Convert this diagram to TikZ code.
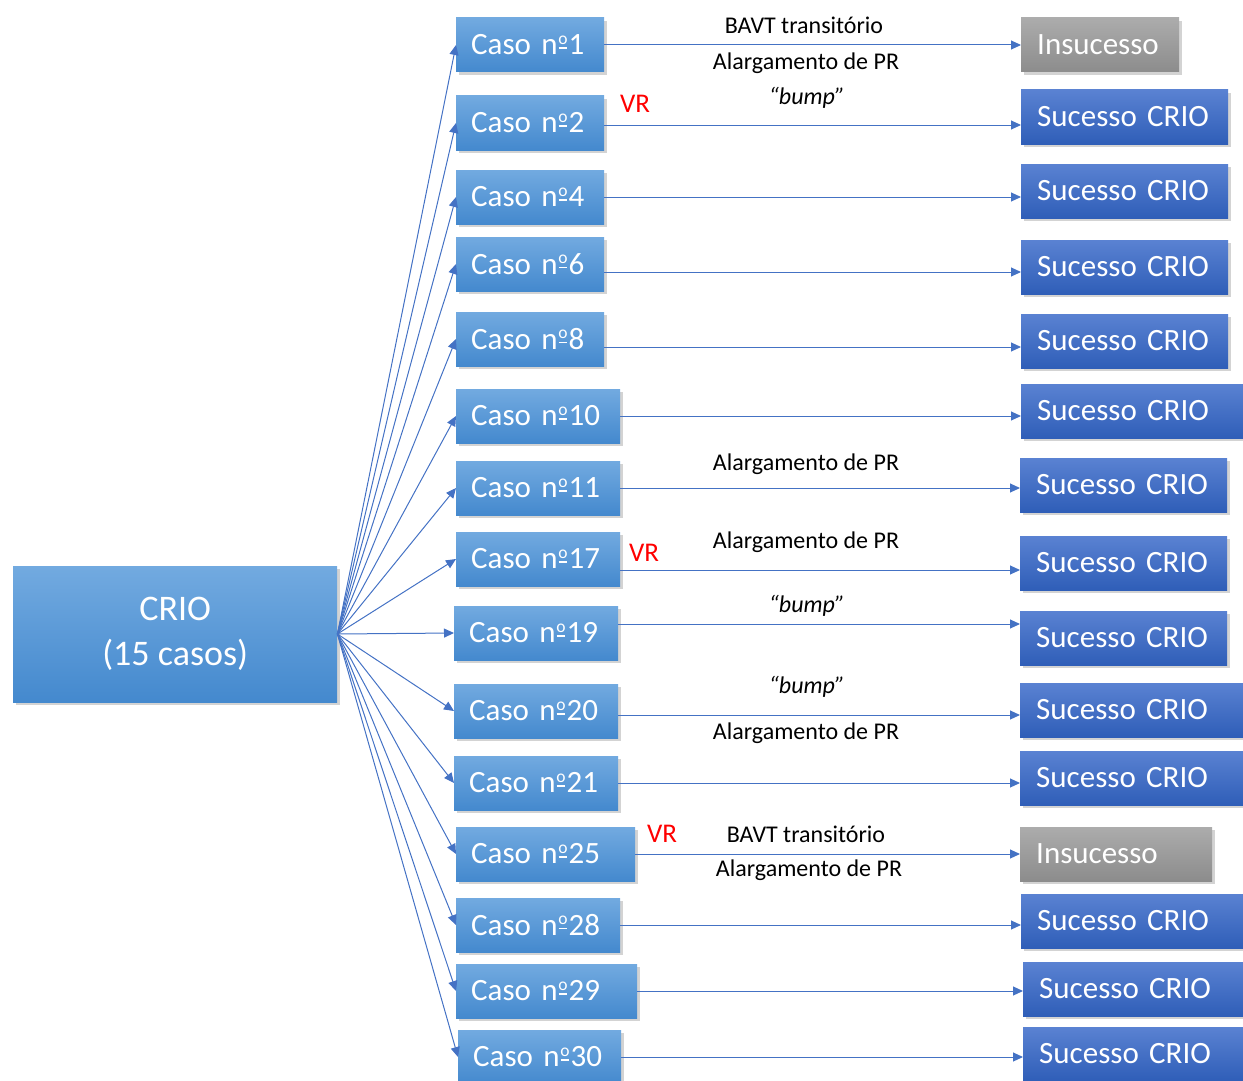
\documentclass[tikz,border=0pt]{standalone}
\usepackage{fontspec}
\usepackage{graphicx}
\setmainfont{Carlito}
\usetikzlibrary{arrows.meta,shadows}

\definecolor{casotop}{RGB}{114,170,224}
\definecolor{casobot}{RGB}{68,137,206}
\definecolor{suctop}{RGB}{90,130,210}
\definecolor{sucbot}{RGB}{47,94,184}
\definecolor{instop}{RGB}{172,172,172}
\definecolor{insbot}{RGB}{140,140,140}
\definecolor{arrblue}{RGB}{68,114,196}

% "nº" with the underlined ordinal, as the picture prints it
\newcommand\nro{n\kern1pt\rlap{\raisebox{6.3pt}{\rule{8.5pt}{1.5pt}}}%
  \makebox[8.5pt]{\raisebox{10.5pt}{\fontsize{17.5}{17.5}\selectfont o}}\kern1.5pt}

\tikzset{
  box/.style={draw=none,inner xsep=15pt,inner ysep=0pt,minimum height=54pt,
    text=white,anchor=west,align=left,font=\fontsize{31}{37}\selectfont,
    drop shadow={shadow xshift=3pt,shadow yshift=-3pt,opacity=0.35}},
  casobox/.style={box,top color=casotop,bottom color=casobot,text width=#1},
  sucbox/.style={box,inner xsep=16pt,top color=suctop,bottom color=sucbot,text width=#1},
  insbox/.style={box,inner xsep=16pt,top color=instop,bottom color=insbot,text width=#1},
  crio/.style={box,align=center,minimum width=324pt,minimum height=136pt,
    top color=casotop,bottom color=casobot,font=\fontsize{36}{45}\selectfont},
  lbl/.style={font=\fontsize{24}{28}\selectfont},
  vr/.style={text=red,font=\fontsize{27}{32}\selectfont},
  arr/.style={-{Triangle[length=10pt,width=9pt]},draw=arrblue,line width=1pt}
}

\begin{document}
\begin{tikzpicture}[x=1pt,y=-1pt]
  \useasboundingbox (0,0) rectangle (1243,1081);

  \draw (13,634) node[crio] (crio) {CRIO\\(15 casos)};

  \draw (456,45) node[casobox=118pt] (c1) {Caso \nro1};
  \draw (456,123) node[casobox=118pt] (c2) {Caso \nro2};
  \draw (456,197) node[casobox=118pt] (c4) {Caso \nro4};
  \draw (456,264) node[casobox=118pt] (c6) {Caso \nro6};
  \draw (456,339) node[casobox=118pt] (c8) {Caso \nro8};
  \draw (456,416) node[casobox=134pt] (c10) {Caso \nro10};
  \draw (456,488) node[casobox=134pt] (c11) {Caso \nro11};
  \draw (456,559) node[casobox=134pt] (c17) {Caso \nro17};
  \draw (454,633) node[casobox=134pt] (c19) {Caso \nro19};
  \draw (454,711) node[casobox=134pt] (c20) {Caso \nro20};
  \draw (454,783) node[casobox=134pt] (c21) {Caso \nro21};
  \draw (456,854) node[casobox=149pt] (c25) {Caso \nro25};
  \draw (456,925) node[casobox=134pt] (c28) {Caso \nro28};
  \draw (456,991) node[casobox=151pt] (c29) {Caso \nro29};
  \draw (458,1057) node[casobox=133pt] (c30) {Caso \nro30};

  \draw (1021,45) node[insbox=126pt] (s1) {Insucesso};
  \draw (1021,117) node[sucbox=175pt] (s2) {Sucesso CRIO};
  \draw (1021,191) node[sucbox=175pt] (s4) {Sucesso CRIO};
  \draw (1021,267) node[sucbox=175pt] (s6) {Sucesso CRIO};
  \draw (1021,341) node[sucbox=175pt] (s8) {Sucesso CRIO};
  \draw (1021,411) node[sucbox=210pt] (s10) {Sucesso CRIO};
  \draw (1020,485) node[sucbox=175pt] (s11) {Sucesso CRIO};
  \draw (1020,563) node[sucbox=175pt] (s17) {Sucesso CRIO};
  \draw (1020,638) node[sucbox=175pt] (s19) {Sucesso CRIO};
  \draw (1020,710) node[sucbox=210pt] (s20) {Sucesso CRIO};
  \draw (1020,778) node[sucbox=210pt] (s21) {Sucesso CRIO};
  \draw (1020,854) node[insbox=160pt] (s25) {Insucesso};
  \draw (1021,921) node[sucbox=210pt] (s28) {Sucesso CRIO};
  \draw (1023,989) node[sucbox=210pt] (s29) {Sucesso CRIO};
  \draw (1023,1054) node[sucbox=210pt] (s30) {Sucesso CRIO};

  % fan out of CRIO
  \draw[arr] (crio.east) -- (c1.west);
  \draw[arr] (crio.east) -- (c2.west);
  \draw[arr] (crio.east) -- (c4.west);
  \draw[arr] (crio.east) -- (c6.west);
  \draw[arr] (crio.east) -- (c8.west);
  \draw[arr] (crio.east) -- (c10.west);
  \draw[arr] (crio.east) -- (c11.west);
  \draw[arr] (crio.east) -- (c17.west);
  \draw[arr] (crio.east) -- (c19.west);
  \draw[arr] (crio.east) -- (c20.west);
  \draw[arr] (crio.east) -- (c21.west);
  \draw[arr] (crio.east) -- (c25.west);
  \draw[arr] (crio.east) -- (c28.west);
  \draw[arr] (crio.east) -- (c29.west);
  \draw[arr] (crio.east) -- (c30.west);

  % outcomes
  \draw[arr] (c1.east) -- (c1.east -| s1.west);
  \draw[arr] ([yshift=-2pt]c2.east) -- ([yshift=-2pt]c2.east -| s2.west);
  \draw[arr] (c4.east) -- (c4.east -| s4.west);
  \draw[arr] ([yshift=-8pt]c6.east) -- ([yshift=-8pt]c6.east -| s6.west);
  \draw[arr] ([yshift=-8pt]c8.east) -- ([yshift=-8pt]c8.east -| s8.west);
  \draw[arr] (c10.east) -- (c10.east -| s10.west);
  \draw[arr] (c11.east) -- (c11.east -| s11.west);
  \draw[arr] ([yshift=-11pt]c17.east) -- ([yshift=-11pt]c17.east -| s17.west);
  \draw[arr] ([yshift=9pt]c19.east) -- ([yshift=9pt]c19.east -| s19.west);
  \draw[arr] ([yshift=-4pt]c20.east) -- ([yshift=-4pt]c20.east -| s20.west);
  \draw[arr] (c21.east) -- (c21.east -| s21.west);
  \draw[arr] (c25.east) -- (c25.east -| s25.west);
  \draw[arr] (c28.east) -- (c28.east -| s28.west);
  \draw[arr] (c29.east) -- (c29.east -| s29.west);
  \draw[arr] (c30.east) -- (c30.east -| s30.west);

  \draw (804,25) node[lbl] (t1a) {BAVT transitório};
  \draw (806,63) node[lbl] (t1b) {Alargamento de PR};
  \draw (635,104) node[vr] (v2) {VR};
  \draw (807,98) node[lbl] (t2) {\itshape “bump”};
  \draw (806,464) node[lbl] (t11) {Alargamento de PR};
  \draw (644,553) node[vr] (v17) {VR};
  \draw (806,542) node[lbl] (t17) {Alargamento de PR};
  \draw (807,606) node[lbl] (t19) {\itshape “bump”};
  \draw (807,687) node[lbl] (t20a) {\itshape “bump”};
  \draw (806,733) node[lbl] (t20b) {Alargamento de PR};
  \draw (662,834) node[vr] (v25) {VR};
  \draw (806,834) node[lbl] (t25a) {BAVT transitório};
  \draw (809,870) node[lbl] (t25b) {Alargamento de PR};

\end{tikzpicture}
\end{document}
